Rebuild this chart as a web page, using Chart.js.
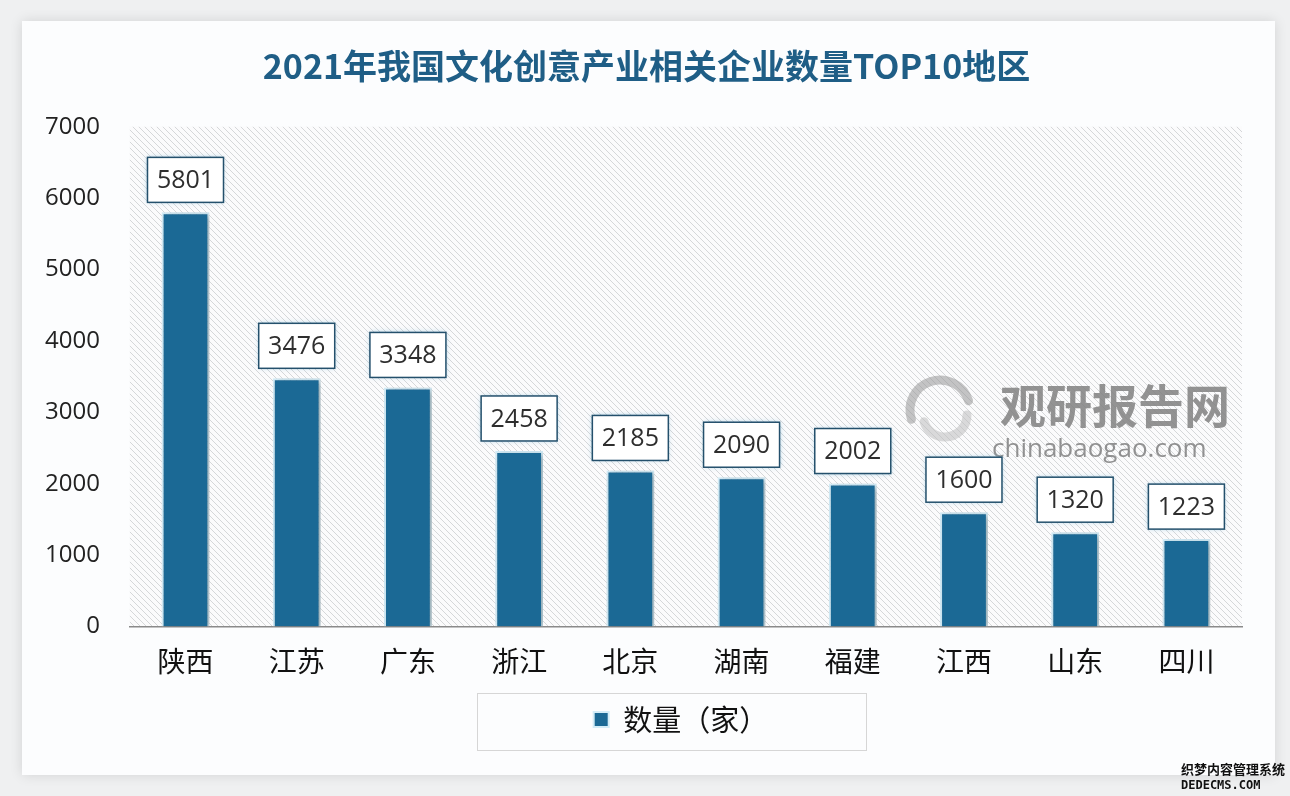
<!DOCTYPE html>
<html>
<head>
<meta charset="utf-8">
<script src="https://cdn.jsdelivr.net/npm/chart.js@4.4.1/dist/chart.umd.min.js"></script>
<style>
  html, body { margin: 0; padding: 0; background: #eff0f1; }
  .canvas-container { width: 1290px; height: 796px; position: relative; }
</style>
</head>
<body>
<div class="canvas-container"><canvas id="myChart"></canvas></div>
<script>
"use strict";
const regions = ['陕西', '江苏', '广东', '浙江', '北京', '湖南', '福建', '江西', '山东', '四川'];
const counts = [5801, 3476, 3348, 2458, 2185, 2090, 2002, 1600, 1320, 1223];
const seriesName = '数量（家）';
const chartTitle = '2021年我国文化创意产业相关企业数量TOP10地区';
const yMax = 7000;
const yStep = 1000;

const barColor = '#1b6995';

function makeHatch() {
    const c = document.createElement('canvas');
    c.width = 6; c.height = 6;
    const g = c.getContext('2d');
    g.fillStyle = '#fbfbfc';
    g.fillRect(0, 0, 6, 6);
    g.strokeStyle = '#d5d7d9';
    g.lineWidth = 1;
    g.beginPath();
    g.moveTo(-1, -1); g.lineTo(7, 7);
    g.moveTo(-1, 5); g.lineTo(1, 7);
    g.moveTo(5, -1); g.lineTo(7, 1);
    g.stroke();
    return g.createPattern(c, 'repeat');
}

function shiftBox(box, dx) {
    box.left += dx;
    box.right += dx;
    if (box.legendHitBoxes) box.legendHitBoxes.forEach(b => { b.left += dx; });
}

const backdrop = {
    id: 'backdrop',
    afterLayout(chart) {
        // title is centred on the card, legend a little left of the plot centre
        shiftBox(chart.titleBlock, 18);
        shiftBox(chart.legend, -5);
    },
    beforeDraw(chart) {
        const ctx = chart.ctx;
        const a = chart.chartArea;
        ctx.save();
        ctx.fillStyle = '#eff0f1';
        ctx.fillRect(0, 0, chart.width, chart.height);
        ctx.shadowColor = 'rgba(0,0,0,0.12)';
        ctx.shadowBlur = 12;
        ctx.fillStyle = '#fcfdfe';
        ctx.fillRect(22, 21, 1253, 754);
        ctx.shadowColor = 'transparent';
        ctx.fillStyle = makeHatch();
        ctx.fillRect(a.left, a.top, a.right - a.left, a.bottom - a.top);
        // watermark
        ctx.lineCap = 'round';
        ctx.strokeStyle = 'rgba(150,150,150,0.55)';
        ctx.lineWidth = 9;
        ctx.beginPath();
        ctx.arc(940, 410, 30, Math.PI * 0.9, Math.PI * 1.9);
        ctx.stroke();
        ctx.beginPath();
        ctx.strokeStyle = 'rgba(190,190,190,0.55)';
        ctx.arc(945, 415, 22, Math.PI * 0.0, Math.PI * 0.9);
        ctx.stroke();
        ctx.fillStyle = 'rgba(128,128,128,0.85)';
        ctx.font = 'bold 46px "Noto Sans CJK SC"';
        ctx.textBaseline = 'middle';
        ctx.textAlign = 'left';
        ctx.fillText('观研报告网', 1000, 406);
        ctx.fillStyle = 'rgba(120,120,120,0.8)';
        ctx.font = '26px "Open Sans"';
        ctx.fillText('chinabaogao.com', 992, 450);
        ctx.restore();
    },
    beforeDatasetsDraw(chart) {
        const ctx = chart.ctx;
        ctx.save();
        ctx.shadowColor = 'rgba(0,0,0,0.28)';
        ctx.shadowBlur = 6;
        ctx.shadowOffsetX = 3;
        ctx.shadowOffsetY = 2;
    },
    afterDatasetsDraw(chart) {
        const ctx = chart.ctx;
        ctx.restore();
        const meta = chart.getDatasetMeta(0);
        ctx.save();
        ctx.font = '25px "Open Sans"';
        ctx.textAlign = 'center';
        ctx.textBaseline = 'middle';
        meta.data.forEach((bar, i) => {
            const w = 76, h = 45;
            const x = bar.x - w / 2, y = bar.y - 10 - h;
            ctx.shadowColor = 'rgba(120,180,215,0.7)';
            ctx.shadowBlur = 5;
            ctx.fillStyle = '#ffffff';
            ctx.fillRect(x, y, w, h);
            ctx.shadowColor = 'transparent';
            ctx.strokeStyle = '#24506c';
            ctx.lineWidth = 1.5;
            ctx.strokeRect(x, y, w, h);
            ctx.fillStyle = '#2e2e2e';
            ctx.fillText(String(counts[i]), bar.x, y + h / 2 + 1);
        });
        ctx.restore();
    },
    afterDraw(chart) {
        const ctx = chart.ctx;
        ctx.save();
        ctx.strokeStyle = '#d6d6d6';
        ctx.lineWidth = 1;
        ctx.strokeRect(477.5, 693.5, 389, 57);
        ctx.fillStyle = '#111';
        ctx.font = 'bold 13px "Noto Sans CJK SC"';
        ctx.textAlign = 'left';
        ctx.textBaseline = 'middle';
        ctx.fillText('织梦内容管理系统', 1181, 769);
        ctx.font = 'bold 12px "DejaVu Sans Mono"';
        ctx.fillText('DEDECMS.COM', 1181, 786);
        ctx.restore();
    }
};

const ctx = document.getElementById('myChart');
const config = {
    type: 'bar',
    data: {
        labels: regions,
        datasets: [{
            label: seriesName,
            data: counts,
            backgroundColor: barColor,
            borderColor: '#d3ecf7',
            borderWidth: 2,
            categoryPercentage: 1,
            barPercentage: 0.43
        }]
    },
    options: {
        responsive: false,
        animation: false,
        layout: { padding: { left: 15, right: 48, top: 0, bottom: 52 } },
        scales: {
            x: {
                grid: { display: false, drawTicks: false },
                border: { display: true, color: '#8a8a8a', width: 1.5 },
                ticks: {
                    padding: 18,
                    color: '#111',
                    font: { family: '"Noto Sans CJK SC"', size: 28 }
                }
            },
            y: {
                min: 0,
                max: yMax,
                grid: { display: false, drawTicks: false },
                border: { display: false },
                ticks: {
                    stepSize: yStep,
                    padding: 30,
                    color: '#222',
                    callback: v => String(v),
                    font: { family: '"Open Sans"', size: 24 }
                }
            }
        },
        plugins: {
            title: {
                display: true,
                text: chartTitle,
                color: '#1f5e86',
                font: { family: '"Noto Sans CJK SC"', size: 34, weight: 'bold' },
                padding: { top: 46, bottom: 40 }
            },
            legend: {
                position: 'bottom',
                fullSize: false,
                labels: {
                    color: '#111',
                    boxWidth: 15,
                    boxHeight: 15,
                    padding: 9,
                    font: { family: '"Noto Sans CJK SC"', size: 29 }
                }
            },
            tooltip: { enabled: false }
        }
    },
    plugins: [backdrop]
};
const container = document.querySelector('.canvas-container');
ctx.setAttribute('width', container.clientWidth);
ctx.setAttribute('height', container.clientHeight);
new Chart(ctx, config);
</script>
</body>
</html>
